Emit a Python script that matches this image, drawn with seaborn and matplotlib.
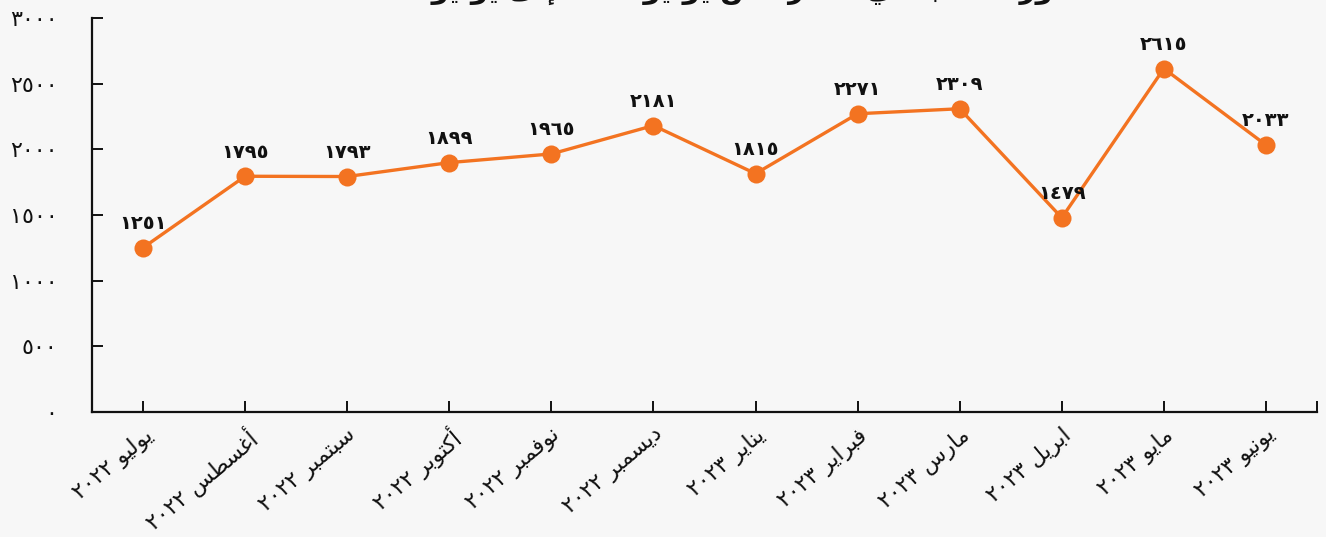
import matplotlib
matplotlib.use("Agg")

import matplotlib.pyplot as plt
import seaborn as sns
import pandas as pd


# ──────────────────────────────────────────────
# Data
# ──────────────────────────────────────────────
MONTHS = ["يوليو", "أغسطس", "سبتمبر", "أكتوبر", "نوفمبر", "ديسمبر",
          "يناير", "فبراير", "مارس", "ابريل", "مايو", "يونيو"]
YEARS = ["2022", "2022", "2022", "2022", "2022", "2022",
         "2023", "2023", "2023", "2023", "2023", "2023"]
VALUES = [1251, 1795, 1793, 1899, 1965, 2181, 1815, 2271, 2309, 1479, 2615, 2033]
Y_TICKS = [0, 500, 1000, 1500, 2000, 2500, 3000]
TITLE = "تطور الطلب في الفترة من يوليو 2022 إلى يونيو 2023"

# ──────────────────────────────────────────────
# Theme
# ──────────────────────────────────────────────
BG = "#f7f7f7"
ORANGE = "#f37321"
INK = "#111111"
W, H = 1326, 537


# ──────────────────────────────────────────────
# Arabic shaping (matplotlib has no bidi / joining support)
# ──────────────────────────────────────────────
DIGITS = str.maketrans("0123456789", "٠١٢٣٤٥٦٧٨٩")

# dual-joining letters: iso, fin, ini, med ; right-joining: iso, fin
DUAL = {"ب": 0xFE8F, "ت": 0xFE95, "ث": 0xFE99, "ج": 0xFE9D, "ح": 0xFEA1,
        "خ": 0xFEA5, "س": 0xFEB1, "ش": 0xFEB5, "ص": 0xFEB9, "ض": 0xFEBD,
        "ط": 0xFEC1, "ظ": 0xFEC5, "ع": 0xFEC9, "غ": 0xFECD, "ف": 0xFED1,
        "ق": 0xFED5, "ك": 0xFED9, "ل": 0xFEDD, "م": 0xFEE1, "ن": 0xFEE5,
        "ه": 0xFEE9, "ي": 0xFEF1, "ئ": 0xFE89}
RIGHT = {"ا": 0xFE8D, "أ": 0xFE83, "إ": 0xFE87, "آ": 0xFE81, "د": 0xFEA9,
         "ذ": 0xFEAB, "ر": 0xFEAD, "ز": 0xFEAF, "و": 0xFEED, "ى": 0xFEEF,
         "ة": 0xFE93, "ؤ": 0xFE85}


def _shape_word(word):
    out = []
    for i, c in enumerate(word):
        prev_j = i > 0 and word[i - 1] in DUAL
        next_j = i < len(word) - 1 and (word[i + 1] in DUAL or word[i + 1] in RIGHT)
        if c in DUAL:
            form = 3 if (prev_j and next_j) else 1 if prev_j else 2 if next_j else 0
            out.append(chr(DUAL[c] + form))
        elif c in RIGHT:
            out.append(chr(RIGHT[c] + (1 if prev_j else 0)))
        else:
            out.append(c)
    return "".join(reversed(out))


def ar(text):
    """Logical-order Arabic -> visual order presentation forms."""
    words = text.translate(DIGITS).split(" ")
    return " ".join(w if w.isdigit() else _shape_word(w) for w in reversed(words))


# ──────────────────────────────────────────────
# Chart
# ──────────────────────────────────────────────
sns.set_theme(style="ticks")
plt.rcParams.update({
    "font.family": ["DejaVu Sans"],
    "text.color": INK,
    "axes.edgecolor": INK,
    "xtick.color": INK,
    "ytick.color": INK,
    "xtick.bottom": True,
    "ytick.left": True,
})

labels = [ar(f"{m} {y}") for m, y in zip(MONTHS, YEARS)]
df = pd.DataFrame({"month": labels, "value": VALUES})

fig = plt.figure(figsize=(W / 100, H / 100), dpi=100, facecolor=BG)
ax = fig.add_axes([92 / W, 1 - 412 / H, (1317 - 92) / W, (412 - 18) / H])
ax.set_facecolor(BG)

sns.lineplot(data=df, x="month", y="value", sort=False, ax=ax,
             color=ORANGE, lw=2.4, marker="o", markersize=13,
             markeredgewidth=0, markerfacecolor=ORANGE)

for i, v in enumerate(VALUES):
    ax.annotate(str(v).translate(DIGITS), (i, v), xytext=(0, 13.5),
                textcoords="offset points", ha="center", va="baseline",
                fontsize=14, fontweight="bold", color=INK)

ax.set_xlim(-0.5, len(VALUES) - 0.5)
ax.set_ylim(0, 3000)
ax.set_xticks(range(len(labels)))
ax.set_xticklabels(labels, rotation=40, ha="right", va="top",
                   rotation_mode="anchor", fontsize=16)
ax.set_xticks([len(VALUES) - 0.5], minor=True)
ax.set_yticks(Y_TICKS)
ax.set_yticklabels([str(t).translate(DIGITS) for t in Y_TICKS], fontsize=16)

ax.tick_params(axis="x", which="both", direction="in", length=8, width=1.4, pad=9)
ax.tick_params(axis="y", direction="in", length=8, width=1.4, pad=25)
ax.set_xlabel("")
ax.set_ylabel("")
sns.despine(ax=ax)
for side in ("left", "bottom"):
    ax.spines[side].set_linewidth(1.6)
    ax.spines[side].set_color(INK)

# title sits mostly above the canvas, only its lower edge is visible
fig.text(0.545, 1.004, ar(TITLE), ha="center", va="baseline",
         fontsize=20, fontweight="bold", color=INK)

fig.savefig("out.png", dpi=100, facecolor=BG)
